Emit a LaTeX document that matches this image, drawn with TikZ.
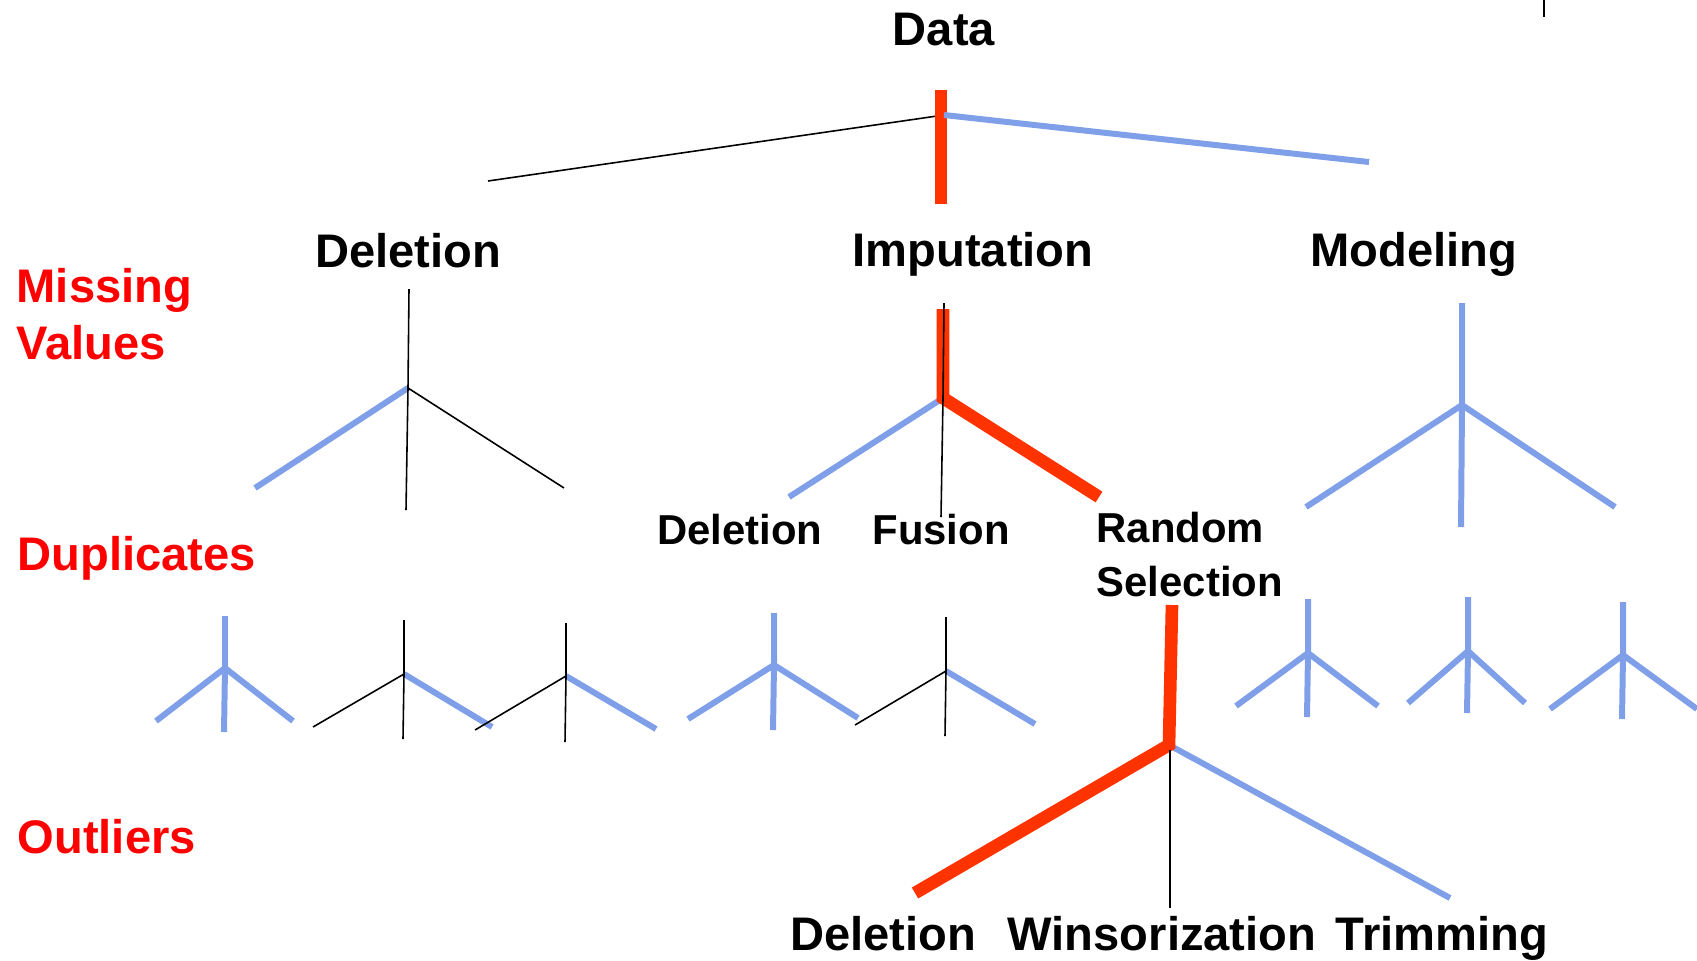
\documentclass[tikz,border=0pt]{standalone}
\usepackage{fontspec}
\setmainfont{Liberation Sans}
\usepackage{xcolor}
\usetikzlibrary{positioning}
\definecolor{brblue}{RGB}{127,159,232}
\definecolor{brred}{RGB}{255,51,0}
\definecolor{lblred}{RGB}{255,0,0}

\begin{document}
\begin{tikzpicture}[
  x=0.01cm, y=-0.01cm,
  lab/.style={font=\fontsize{13.4}{16}\selectfont\bfseries, inner sep=0pt, anchor=base},
  sublab/.style={lab, font=\fontsize{11.9}{15.1}\selectfont\bfseries},
  cat/.style={lab, text=lblred, anchor=base west, align=left},
  bl/.style={brblue, line width=1.7pt},
  rd/.style={brred, line width=3.6pt},
  th/.style={black, line width=0.45pt}]
\useasboundingbox (0,0) rectangle (1697,960);
% labels
\node[lab] (data) at (944,45) {Data};
\node[lab] (del) at (408,267) {Deletion};
\node[lab] (imp) at (973,266) {Imputation};
\node[lab] (mod) at (1414,266) {Modeling};
\node[cat, font=\fontsize{13.4}{16.2}\selectfont\bfseries] (mv) at (16,359) {Missing\\Values};
\node[cat] (dup) at (17,570) {Duplicates};
\node[cat] (out) at (17,853) {Outliers};
\node[sublab] (idel) at (740,544) {Deletion};
\node[sublab] (fus) at (941,544) {Fusion};
\node[sublab, anchor=base west, align=left] (rs) at (1096,596) {Random\\Selection};
\node[lab] (odel) at (883,950) {Deletion};
\node[lab] (win) at (1162,950) {Winsorization};
\node[lab] (trim) at (1442,950) {Trimming};
% first split
\coordinate (r0) at (944,115);
\coordinate (t0) at (1544,0);
\draw[th] (488,181) coordinate (a0) -- (r0);
\draw[th] (t0) -- (1544,17);
\draw[rd] (941,90) coordinate (d0) -- (941,204);
\draw[bl] (r0) -- (1369,162) coordinate (m0);
% deletion tree
\coordinate (jd) at (408,388);
\draw[bl] (255,488) -- (jd);
\draw[th] (jd) -- (564,488);
\draw[th] (409,289) -- (jd) -- (406,510);
% imputation tree
\coordinate (ji) at (943,398);
\draw[bl] (789,497) -- (ji);
\draw[rd] (943,309) -- (ji) -- (1099,497);
\draw[th] (944,303) -- (ji) -- (941,517);
% modeling tree
\coordinate (jm) at (1462,405);
\draw[bl] (1462,303) -- (jm) -- (1461,527);
\draw[bl] (1306,507) -- (jm) -- (1615,507);
% duplicate trees, all blue
\foreach \x/\t/\j/\b/\l/\r/\e/\f in {225/616/668/732/156/293/721/721,
    774/613/665/730/688/858/719/718, 1308/599/653/717/1236/1378/706/706,
    1468/597/651/713/1408/1525/703/703, 1623/602/655/719/1550/1697/709/709}{
  \draw[bl] (\x,\t) -- (\x,\j) -- (\x-1,\b);
  \draw[bl] (\l,\e) -- (\x,\j) -- (\r,\f);
}
% duplicate trees, black and blue
\foreach \x/\t/\j/\b/\l/\r/\e/\f in {404/620/674/739/313/492/727/727,
    566/623/676/742/475/656/730/729, 946/617/671/736/855/1035/725/724}{
  \draw[bl] (\x,\j) -- (\r,\f);
  \draw[th] (\l,\e) -- (\x,\j);
  \draw[th] (\x,\t) -- (\x,\j) -- (\x-1,\b);
}
% outlier tree
\coordinate (jo) at (1169,745);
\draw[bl] (jo) -- (1450,898);
\draw[rd] (1172,605) -- (jo) -- (915,893);
\draw[th] (1170,750) -- (1170,908);
\end{tikzpicture}
\end{document}
